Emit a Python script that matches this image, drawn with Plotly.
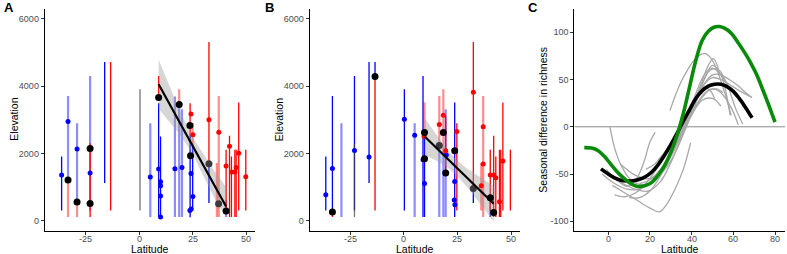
import plotly.graph_objects as go

W, H = 787, 254

# ---------------- Panel A data ----------------
# segments: latitude, low elevation, high elevation, group, strong(1)/faint(0)
A_seg_lat = [-36.2, -33.2, -33.2, -29.0, -29.0, -22.9, -22.9, -16.1, -13.3, 0.4, 5.2, 9.1, 9.1, 10.0,
             16.7, 18.7, 18.7, 20.0, 23.8, 23.8, 25.0, 25.0, 32.6, 32.6, 36.3, 37.2, 40.6, 40.6,
             42.2, 43.1, 44.7, 45.3, 46.5, 49.8]
A_seg_lo = [305, 1207, 110, 554, 110, 300, 110, 1117, 305, 305, 110, 3657, 110, 110,
            110, 3449, 110, 110, 2550, 100, 2200, 300, 1690, 525, 110, 110, 305, 110,
            110, 110, 110, 110, 305, 305]
A_seg_hi = [1907, 3707, 1207, 2897, 554, 4300, 2300, 4715, 4715, 3905, 2897, 4300, 3490, 2500,
            3687, 3905, 3449, 3312, 3490, 2550, 2900, 2200, 5308, 1690, 1711, 3707, 2105, 600,
            2520, 1907, 2105, 2105, 3508, 2105]
A_seg_grp = ["S", "S", "W", "S", "W", "S", "W", "S", "W", "N", "S", "W", "S", "S",
             "S", "W", "S", "S", "W", "S", "W", "S", "W", "S", "W", "W", "W", "S",
             "W", "W", "W", "W", "W", "W"]
A_seg_strong = [1, 0, 0, 0, 0, 0, 1, 1, 1, 1, 0, 1, 1, 1,
                0, 0, 0, 0, 1, 1, 0, 1, 1, 1, 0, 0, 1, 0,
                1, 1, 1, 1, 1, 1]

A_pt_lat = [-36.2, -33.2, -29.0, -22.9, 5.2, 9.1, 10.0, 10.0, 10.0, 10.0, 16.7, 20.0, 24.2, 25.1, 24.3, 23.7,
            24.2, 25.1, 32.6, 37.2, 40.6, 42.2, 43.1, 44.7, 45.3, 46.5, 49.8,
            -33.2, -29.0, -22.9, -22.9, 9.1, 18.7, 23.7, 24.0, 40.6,
            32.6, 37.1]
A_pt_elev = [1355, 2945, 2126, 1414, 1296, 1533, 1157, 1038, 732, 110, 1542, 1581, 1403, 721, 346, 305,
             3170, 2550, 2995, 2630, 1622, 2215, 1444, 1444, 1581, 2007, 1305,
             1207, 554, 2144, 513, 3657, 3449, 2827, 1928, 288,
             1690, 504]
A_pt_grp = ["S"] * 16 + ["W"] * 11 + ["M"] * 9 + ["MR"] * 2

A_fit_lat = [9.1, 40.6]
A_fit_elev = [4054, 424]
A_band_lat = [9.1, 14, 19, 24.5, 30, 35.5, 40.6]
A_band_lo = [3324, 2960, 2564, 2040, 1326, 620, 100]
A_band_hi = [4784, 4020, 3264, 2520, 1966, 1450, 1000]

# ---------------- Panel B data ----------------
B_seg_lat = [-36.5, -33.4, -33.4, -29.2, -23.1, -23.1, -16.3, -13.5, -13.5, 0.2, 5.0, 8.9, 9.6, 9.6,
             16.5, 16.5, 18.4, 18.4, 19.5, 19.5, 23.7, 24.7, 32.4, 32.4, 36.1, 37.0, 40.3, 40.3,
             41.9, 42.9, 44.6, 45.2, 46.2, 49.7]
B_seg_lo = [305, 258, 110, 110, 305, 110, 1117, 4280, 305, 305, 110, 110, 2500, 110,
            2233, 110, 2076, 110, 110, 1414, 110, 305, 959, 525, 305, 110, 305, 110,
            110, 110, 110, 110, 305, 305]
B_seg_hi = [1907, 3707, 258, 2897, 4300, 2300, 4715, 4715, 4280, 3905, 2897, 4300, 3508, 2500,
            3707, 2233, 3905, 2076, 3312, 3100, 3508, 2897, 5308, 959, 1711, 3707, 2105, 682,
            2520, 1907, 2105, 2105, 3508, 2105]
B_seg_grp = ["S", "S", "W", "S", "S", "N", "S", "S", "W", "S", "S", "S", "W", "S",
             "W", "S", "W", "S", "S", "W", "S", "W", "W", "S", "W", "W", "W", "S",
             "W", "W", "W", "W", "W", "W"]
B_seg_strong = [1, 1, 1, 0, 1, 1, 1, 1, 1, 1, 0, 1, 0, 1,
                0, 0, 0, 0, 0, 1, 1, 1, 1, 1, 0, 0, 1, 1,
                1, 1, 1, 1, 1, 1]

B_pt_lat = [-36.5, -33.4, -23.1, -16.3, 0.2, 5.0, 8.9, 9.6, 19.8, 23.7, 23.5, 23.8,
            9.4, 16.5, 18.4, 19.5, 24.7, 32.4, 36.1, 37.0, 37.0, 40.3, 41.9, 42.9, 44.6, 46.2,
            -33.4, -13.5, 9.6, 9.6, 18.4, 19.5, 23.7, 41.9, 40.3,
            16.5, 32.4]
B_pt_elev = [771, 1551, 2085, 1889, 3016, 2541, 1809, 1107, 1948, 1166, 614, 475,
             2500, 2856, 3135, 2076, 2648, 3817, 1038, 2788, 1681, 1355, 1355, 1275, 563, 1770,
             258, 4280, 2619, 1839, 2619, 1414, 2076, 247, 682,
             2233, 959]
B_pt_grp = ["S"] * 12 + ["W"] * 14 + ["M"] * 9 + ["MR"] * 2

B_fit_lat = [9.7, 41.9]
B_fit_elev = [2500, 504]
B_band_lat = [9.7, 15, 20, 25, 30, 35, 41.9]
B_band_lo = [1955, 1791, 1601, 1321, 961, 541, -26]
B_band_hi = [3045, 2551, 2121, 1781, 1521, 1321, 1034]

# ---------------- Panel C data ----------------
C_green_lat = [-11.5, -8, -5, -2, 1, 4, 7, 10, 13, 15, 18, 21, 24, 27, 30, 33, 36, 39, 42, 45,
               48, 51, 53.3, 56, 59, 62, 65, 68, 71, 74, 77, 80]
C_green_val = [-22, -22.5, -25, -31, -39, -47, -53.5, -59, -62.5, -63.3, -62, -58.5, -51, -41, -27,
               -9, 14, 42, 70, 91, 101, 105.5, 106, 104, 99, 90, 80, 69, 56, 40, 23, 5]
C_black_lat = [-3.5, 0, 3, 6, 9, 12, 15, 18, 21, 24, 27, 30, 33, 36, 39, 42, 45, 48, 51, 54, 57, 60,
               63, 66, 69]
C_black_val = [-44.5, -50, -54, -56.5, -57.3, -57, -55.5, -52.5, -47.5, -40, -30, -19, -7, 6, 18, 30,
               38, 43, 45, 45, 42.5, 37.5, 29.5, 20, 9.5]
C_gray_lat = [
    [0.8, 3, 6, 10, 15, 20, 25, 30, 35, 40, 45, 50, 54],
    [2, 8, 14, 20, 24.5, 28, 32, 36, 39.5],
    [-1, 4, 9, 13, 17, 20, 22.5],
    [-3, 3, 9, 15, 21, 27, 32, 37, 42, 46, 50, 54, 58],
    [1, 7, 13, 19, 25, 30, 35, 40, 45, 49, 53, 57, 61, 64.5],
    [6, 12, 18, 24, 30, 36, 42, 46, 50, 54, 58, 63, 69],
    [29.6, 32, 35, 38, 41, 44, 47, 50, 53, 56, 59],
    [10, 15, 20, 25, 30, 35, 40, 44, 48, 51],
    [15, 20, 25, 30, 35, 40, 45, 50, 54, 58.5],
    [20, 25, 30, 35, 40, 45, 48, 50.4, 53],
    [18, 22, 26, 30, 34, 38, 42, 46, 50, 54, 59, 62.4],
    [24, 28, 32, 36, 40, 44, 48, 52, 55],
    [30, 34, 38, 42, 46, 50, 54, 58, 62, 66, 68.8],
    [3, 8, 13, 18, 23, 28],
]
C_gray_val = [
    [0, -22, -40, -54, -61, -60, -50, -32, -10, 12, 28, 30, 22],
    [-62, -70, -78, -86, -90, -82, -66, -45, -17],
    [-45, -56, -63, -57, -38, -16, -6],
    [-50, -60, -66, -66, -58, -40, -18, 8, 35, 55, 62, 55, 40],
    [-52, -60, -66, -68, -58, -38, -12, 18, 45, 60, 60, 45, 20, 3],
    [-40, -50, -55, -52, -36, -8, 25, 45, 52, 50, 45, 38, 31],
    [17, 32, 48, 60, 70, 76, 77, 70, 55, 35, 12],
    [-75, -75, -68, -52, -30, -5, 20, 38, 40, 30],
    [-60, -56, -45, -28, -5, 20, 45, 65, 55, 12],
    [-55, -48, -30, -8, 18, 48, 65, 72, 60],
    [-45, -40, -30, -18, -5, 8, 22, 35, 40, 36, 20, 2],
    [-35, -25, -12, 2, 15, 28, 38, 40, 36],
    [-25, -10, 8, 28, 45, 55, 55, 50, 44, 36, 31],
    [-72, -74, -70, -60, -45, -25],
]

X_TICKS_AB = [-25, 0, 25, 50]
Y_TICKS_AB = [0, 2000, 4000, 6000]
X_TICKS_C = [0, 20, 40, 60, 80]
Y_TICKS_C = [-100, -50, 0, 50, 100]

# ---------------- styles ----------------
SEG_COL = {("S", 1): "rgb(0,0,255)", ("S", 0): "rgba(0,0,255,0.45)",
           ("W", 1): "rgb(255,0,0)", ("W", 0): "rgba(255,0,0,0.45)",
           ("N", 1): "rgba(70,70,70,0.75)", ("N", 0): "rgba(70,70,70,0.45)"}
SEG_W = {1: 1.3, 0: 2.2}
PT_COL = {"S": "rgb(0,0,255)", "W": "rgb(255,0,0)", "M": "black", "MR": "#3a3a3a"}
PT_SIZE = {"S": 5, "W": 5, "M": 7, "MR": 7}

fig = go.Figure()


def px_x(p):
    return p / W


def px_y(p):
    return 1 - p / H


def add_elev_panel(n, seg_lat, seg_lo, seg_hi, seg_grp, seg_strong, pt_lat, pt_elev, pt_grp,
                   fit_lat, fit_elev, band_lat, band_lo, band_hi):
    xa, ya = "x" + ("" if n == 1 else str(n)), "y" + ("" if n == 1 else str(n))
    for strong in (0, 1):
        for g in ("S", "W", "N"):
            xs, ys = [], []
            for la, lo, hi, gg, st in zip(seg_lat, seg_lo, seg_hi, seg_grp, seg_strong):
                if gg == g and st == strong:
                    xs += [la, la, None]
                    ys += [lo, hi, None]
            if xs:
                fig.add_trace(go.Scatter(x=xs, y=ys, mode="lines", xaxis=xa, yaxis=ya,
                                         line=dict(color=SEG_COL[(g, strong)], width=SEG_W[strong]),
                                         hoverinfo="skip", showlegend=False))
    fig.add_trace(go.Scatter(x=band_lat + band_lat[::-1], y=band_hi + band_lo[::-1], mode="lines",
                             fill="toself", fillcolor="rgba(153,153,153,0.4)", line=dict(width=0),
                             xaxis=xa, yaxis=ya, hoverinfo="skip", showlegend=False))
    for g in ("S", "W", "M", "MR"):
        xs = [a for a, gg in zip(pt_lat, pt_grp) if gg == g]
        ys = [b for b, gg in zip(pt_elev, pt_grp) if gg == g]
        fig.add_trace(go.Scatter(x=xs, y=ys, mode="markers", xaxis=xa, yaxis=ya,
                                 marker=dict(color=PT_COL[g], size=PT_SIZE[g], line=dict(width=0)),
                                 hoverinfo="skip", showlegend=False))
    fig.add_trace(go.Scatter(x=fit_lat, y=fit_elev, mode="lines", xaxis=xa, yaxis=ya,
                             line=dict(color="black", width=2.2), hoverinfo="skip", showlegend=False))


add_elev_panel(1, A_seg_lat, A_seg_lo, A_seg_hi, A_seg_grp, A_seg_strong, A_pt_lat, A_pt_elev, A_pt_grp,
               A_fit_lat, A_fit_elev, A_band_lat, A_band_lo, A_band_hi)
add_elev_panel(2, B_seg_lat, B_seg_lo, B_seg_hi, B_seg_grp, B_seg_strong, B_pt_lat, B_pt_elev, B_pt_grp,
               B_fit_lat, B_fit_elev, B_band_lat, B_band_lo, B_band_hi)

# Panel C
fig.add_trace(go.Scatter(x=[-16.3, 84.8], y=[0, 0], mode="lines", xaxis="x3", yaxis="y3",
                         line=dict(color="#8c8c8c", width=1), hoverinfo="skip", showlegend=False))
for la, va in zip(C_gray_lat, C_gray_val):
    fig.add_trace(go.Scatter(x=la, y=va, mode="lines", xaxis="x3", yaxis="y3",
                             line=dict(color="#a8a8a8", width=1.3, shape="spline"),
                             hoverinfo="skip", showlegend=False))
fig.add_trace(go.Scatter(x=C_black_lat, y=C_black_val, mode="lines", xaxis="x3", yaxis="y3",
                         line=dict(color="black", width=3.6, shape="spline"), hoverinfo="skip", showlegend=False))
fig.add_trace(go.Scatter(x=C_green_lat, y=C_green_val, mode="lines", xaxis="x3", yaxis="y3",
                         line=dict(color="#0a8a0a", width=3.6, shape="spline"), hoverinfo="skip", showlegend=False))

FONT = "Liberation Sans, Arial, sans-serif"
TICKFONT = dict(family=FONT, size=9, color="#4d4d4d")
TOP, BOT = 8.6, 230.8
ydom = [px_y(BOT), px_y(TOP)]
axis_common = dict(showline=True, linecolor="black", linewidth=1, ticks="outside", ticklen=3,
                   tickcolor="#333333", tickwidth=1, showgrid=False, zeroline=False,
                   tickfont=TICKFONT, fixedrange=True)


def lab(v):
    return str(v)


fig.update_layout(
    width=W, height=H, margin=dict(l=0, r=0, t=0, b=0),
    plot_bgcolor="white", paper_bgcolor="white", showlegend=False,
    xaxis=dict(domain=[px_x(44.7), px_x(255)], range=[-44.1, 54.1], anchor="y",
               tickvals=X_TICKS_AB, showticklabels=False, **axis_common),
    yaxis=dict(domain=ydom, range=[-300, 6300], anchor="x",
               tickvals=Y_TICKS_AB, ticktext=[lab(v) for v in Y_TICKS_AB], **axis_common),
    xaxis2=dict(domain=[px_x(309.5), px_x(519.8)], range=[-44.1, 54.1], anchor="y2",
                tickvals=X_TICKS_AB, showticklabels=False, **axis_common),
    yaxis2=dict(domain=ydom, range=[-300, 6300], anchor="x2",
                tickvals=Y_TICKS_AB, ticktext=[lab(v) for v in Y_TICKS_AB], **axis_common),
    xaxis3=dict(domain=[px_x(574.3), px_x(785)], range=[-16.3, 84.8], anchor="y3",
                tickvals=X_TICKS_C, showticklabels=False, **axis_common),
    yaxis3=dict(domain=ydom, range=[-110, 125], anchor="x3",
                tickvals=Y_TICKS_C, ticktext=[lab(v) for v in Y_TICKS_C], **axis_common),
)

ycen = px_y((TOP + BOT) / 2)
ann = []
# x tick labels placed on the axes' own scales
for xref, ticks in (("x", X_TICKS_AB), ("x2", X_TICKS_AB), ("x3", X_TICKS_C)):
    for v in ticks:
        ann.append(dict(text=lab(v), x=v, y=px_y(238.5), xref=xref, yref="paper",
                        xanchor="center", yanchor="middle", showarrow=False, font=TICKFONT))
for txt, x in (("A", 2), ("B", 263), ("C", 526)):
    ann.append(dict(text="<b>%s</b>" % txt, x=px_x(x), y=px_y(8), xref="paper", yref="paper",
                    xanchor="left", yanchor="middle", showarrow=False,
                    font=dict(family=FONT, size=13, color="black")))
for x in ((44.7 + 255) / 2, (309.5 + 519.8) / 2, (574.3 + 785) / 2):
    ann.append(dict(text="Latitude", x=px_x(x), y=px_y(248.5), xref="paper", yref="paper",
                    xanchor="center", yanchor="middle", showarrow=False,
                    font=dict(family=FONT, size=10.5, color="black")))
for txt, x in (("Elevation", 14), ("Elevation", 278.5), ("Seasonal difference in richness", 543)):
    ann.append(dict(text=txt, x=px_x(x), y=ycen, xref="paper", yref="paper", textangle=-90,
                    xanchor="center", yanchor="middle", showarrow=False,
                    font=dict(family=FONT, size=10.5, color="black")))
fig.update_layout(annotations=ann)

fig.write_html("out.html")
